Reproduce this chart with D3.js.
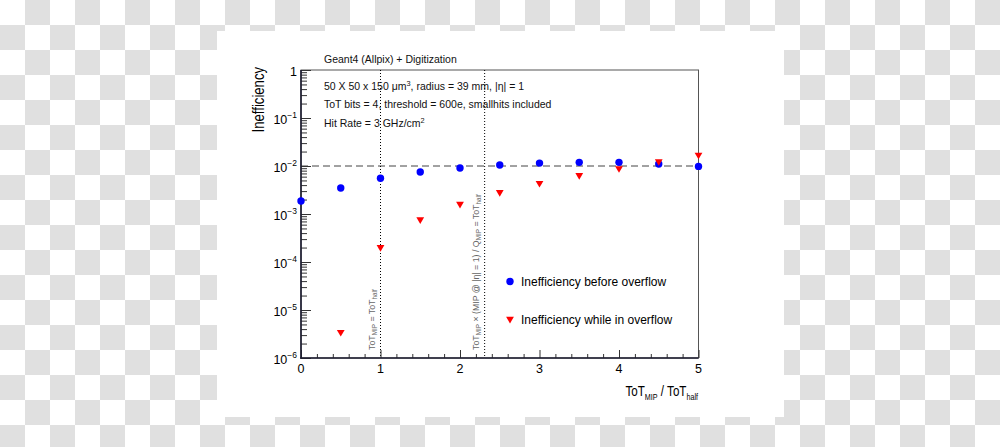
<!DOCTYPE html>
<html><head><meta charset="utf-8">
<script src="https://cdn.jsdelivr.net/npm/d3@7"></script>
<style>html,body{margin:0;padding:0;background:#fff;overflow:hidden}</style>
</head><body><svg id="c" width="1000" height="447"></svg>
<script>
// ---- data ----
const xTickValues = [0, 1, 2, 3, 4, 5];
const yTickExponents = [0, -1, -2, -3, -4, -5, -6];
const totRatio = [0, 0.5, 1, 1.5, 2, 2.5, 3, 3.5, 4, 4.5, 5];
const ineffBeforeOverflow = [1.87e-3, 3.48e-3, 5.54e-3, 7.5e-3, 9.1e-3, 1.05e-2, 1.15e-2, 1.19e-2, 1.19e-2, 1.1e-2, 9.8e-3];
const ineffWhileOverflow = [null, 3.3e-6, 1.93e-4, 7.3e-4, 1.54e-3, 2.7e-3, 4.2e-3, 6.1e-3, 8.5e-3, 1.19e-2, 1.62e-2];
const seriesNames = ["Inefficiency before overflow", "Inefficiency while in overflow"];
const verticalMarkers = [1, 2.31];
const referenceLevel = 1e-2;
const headerLines = [
  [{t: "Geant4 (Allpix) + Digitization"}],
  [{t: "50 X 50 x 150 μm"}, {t: "3", s: 0.7, sh: -4}, {t: ", radius = 39 mm, |η| = 1", sh: 0}],
  [{t: "ToT bits = 4, threshold = 600e, smallhits included"}],
  [{t: "Hit Rate = 3 GHz/cm"}, {t: "2", s: 0.7, sh: -4}]
];
const markerLabels = [
  [{t: "ToT"}, {t: "MIP", s: 0.72, sh: 2.8}, {t: " = ToT", sh: 0}, {t: "half", s: 0.72, sh: 2.8}],
  [{t: "ToT"}, {t: "MIP", s: 0.72, sh: 2.8}, {t: " × (MIP @ |η| = 1) / Q", sh: 0}, {t: "MIP", s: 0.72, sh: 2.8}, {t: " = ToT", sh: 0}, {t: "half", s: 0.72, sh: 2.8}]
];
const xTitle = [{t: "ToT"}, {t: "MIP", s: 0.62, sh: 4}, {t: " / ToT", sh: 0}, {t: "half", s: 0.62, sh: 4}];
const yTitle = "Inefficiency";

// ---- drawing ----
const FONT = "'Liberation Sans', Arial, Helvetica, sans-serif";
const svg = d3.select("#c").attr("font-family", FONT);

// transparent-style checkerboard background
const defs = svg.append("defs");
const pat = defs.append("pattern").attr("id", "chk").attr("width", 50).attr("height", 50)
  .attr("patternUnits", "userSpaceOnUse");
pat.append("rect").attr("width", 50).attr("height", 50).attr("fill", "#ffffff");
pat.append("rect").attr("x", 25).attr("y", 0).attr("width", 25).attr("height", 25).attr("fill", "#e0e0e0");
pat.append("rect").attr("x", 0).attr("y", 25).attr("width", 25).attr("height", 25).attr("fill", "#e0e0e0");
svg.append("rect").attr("width", 1000).attr("height", 447).attr("fill", "url(#chk)");
svg.append("rect").attr("x", 217).attr("y", 31).attr("width", 567).attr("height", 386).attr("fill", "#ffffff");

const X0 = 301, X1 = 698.5, Y0 = 358, Y1 = 70;
const x = d3.scaleLinear().domain([0, 5]).range([X0, X1]);
const y = d3.scaleLog().domain([1e-6, 1]).range([Y0, Y1]);

function rich(textSel, parts, base) {
  let cur = 0;
  parts.forEach(p => {
    const sh = p.sh === undefined ? cur : p.sh;
    const ts = textSel.append("tspan").text(p.t).attr("font-size", base * (p.s || 1));
    if (sh !== cur) ts.attr("dy", sh - cur);
    cur = sh;
  });
  return textSel;
}

// frame (top/right)
svg.append("rect").attr("x", X0).attr("y", Y1).attr("width", X1 - X0).attr("height", Y0 - Y1)
  .attr("fill", "none").attr("stroke", "#555").attr("stroke-width", 1);

// reference dashed line
svg.append("line").attr("x1", x(0)).attr("x2", x(5)).attr("y1", y(referenceLevel)).attr("y2", y(referenceLevel))
  .attr("stroke", "#444").attr("stroke-width", 1).attr("stroke-dasharray", "7,4");

// vertical dotted lines
svg.selectAll("line.vm").data(verticalMarkers).join("line").attr("class", "vm")
  .attr("x1", d => x(d)).attr("x2", d => x(d)).attr("y1", y(1)).attr("y2", y(1e-6))
  .attr("stroke", "#000").attr("stroke-width", 1).attr("stroke-dasharray", "1,2");

// rotated marker labels
verticalMarkers.forEach((v, i) => {
  const t = svg.append("text")
    .attr("transform", `translate(${x(v) - 6},350) rotate(-90)`)
    .attr("fill", "#666").attr("font-size", 8.8);
  rich(t, markerLabels[i], 8.8);
});

// axes ticks
const yMinor = [];
for (let e = -6; e < 0; e++) for (let k = 2; k <= 9; k++) yMinor.push(k * Math.pow(10, e));
const yMajor = yTickExponents.map(e => Math.pow(10, e));
const xMinor = d3.range(0, 5.0001, 0.2).filter(v => Math.abs(v - Math.round(v)) > 1e-6);

function styleAxis(g) {
  g.selectAll(".tick line").attr("stroke", "#333").attr("stroke-width", 1);
  g.selectAll(".domain").remove();
}
svg.append("g").attr("transform", `translate(${X0},0)`)
  .call(d3.axisLeft(y).tickValues(yMinor).tickSize(-6).tickFormat("")).call(styleAxis);
svg.append("g").attr("transform", `translate(${X0},0)`)
  .call(d3.axisLeft(y).tickValues(yMajor).tickSize(-10).tickFormat("")).call(styleAxis);
svg.append("g").attr("transform", `translate(0,${Y0})`)
  .call(d3.axisBottom(x).tickValues(xMinor).tickSize(-4).tickFormat("")).call(styleAxis);
svg.append("g").attr("transform", `translate(0,${Y0})`)
  .call(d3.axisBottom(x).tickValues(xTickValues).tickSize(-8).tickFormat("")).call(styleAxis);

// axis lines
svg.append("line").attr("x1", X0).attr("x2", X0).attr("y1", Y1).attr("y2", Y0 + 0.8)
  .attr("stroke", "#1c1c30").attr("stroke-width", 1.6);
svg.append("line").attr("x1", X0 - 0.8).attr("x2", X1).attr("y1", Y0).attr("y2", Y0)
  .attr("stroke", "#1c1c30").attr("stroke-width", 1.6);

// y tick labels
yTickExponents.forEach(e => {
  const t = svg.append("text").attr("x", X0 - 4).attr("y", y(Math.pow(10, e)) + 6)
    .attr("text-anchor", "end").attr("font-size", 12.5).attr("fill", "#000");
  if (e === 0) t.text("1");
  else rich(t, [{t: "10"}, {t: "\u2212" + Math.abs(e), s: 0.68, sh: -6.5}], 12.5);
});
// x tick labels
svg.selectAll("text.xl").data(xTickValues).join("text").attr("class", "xl")
  .attr("x", d => x(d)).attr("y", 372.5).attr("text-anchor", "middle")
  .attr("font-size", 12.5).text(d => d);

// axis titles
svg.append("text").attr("transform", `translate(263.5,67) rotate(-90) scale(0.82,1)`)
  .attr("text-anchor", "end").attr("font-size", 16).text(yTitle);
const xt = svg.append("text").attr("transform", `translate(698,396) scale(0.8,1)`)
  .attr("text-anchor", "end").attr("font-size", 14.5);
rich(xt, xTitle, 14.5);

// header text
const headerY = [62.5, 89.5, 108, 126.5];
headerLines.forEach((parts, i) => {
  const t = svg.append("text").attr("x", 324).attr("y", headerY[i]).attr("font-size", 10.5).attr("fill", "#111");
  rich(t, parts, 10.5);
});

// markers
const tri = "M-3.9,-3.2L3.9,-3.2L0,3.4Z";
const blue = totRatio.map((v, i) => ({x: v, y: ineffBeforeOverflow[i]})).filter(d => d.y != null);
const red = totRatio.map((v, i) => ({x: v, y: ineffWhileOverflow[i]})).filter(d => d.y != null);
svg.selectAll("circle.b").data(blue).join("circle").attr("class", "b")
  .attr("cx", d => x(d.x)).attr("cy", d => y(d.y)).attr("r", 3.7).attr("fill", "#0000ff");
svg.selectAll("path.r").data(red).join("path").attr("class", "r")
  .attr("transform", d => `translate(${x(d.x)},${y(d.y)})`).attr("d", tri).attr("fill", "#ff0000");

// legend
const leg = svg.append("g");
leg.append("circle").attr("cx", 510).attr("cy", 281.5).attr("r", 3.7).attr("fill", "#0000ff");
leg.append("path").attr("transform", "translate(510,320)").attr("d", tri).attr("fill", "#ff0000");
leg.append("text").attr("x", 521).attr("y", 285.7).attr("font-size", 12).text(seriesNames[0]);
leg.append("text").attr("x", 521).attr("y", 324.3).attr("font-size", 12).text(seriesNames[1]);
</script></body></html>
